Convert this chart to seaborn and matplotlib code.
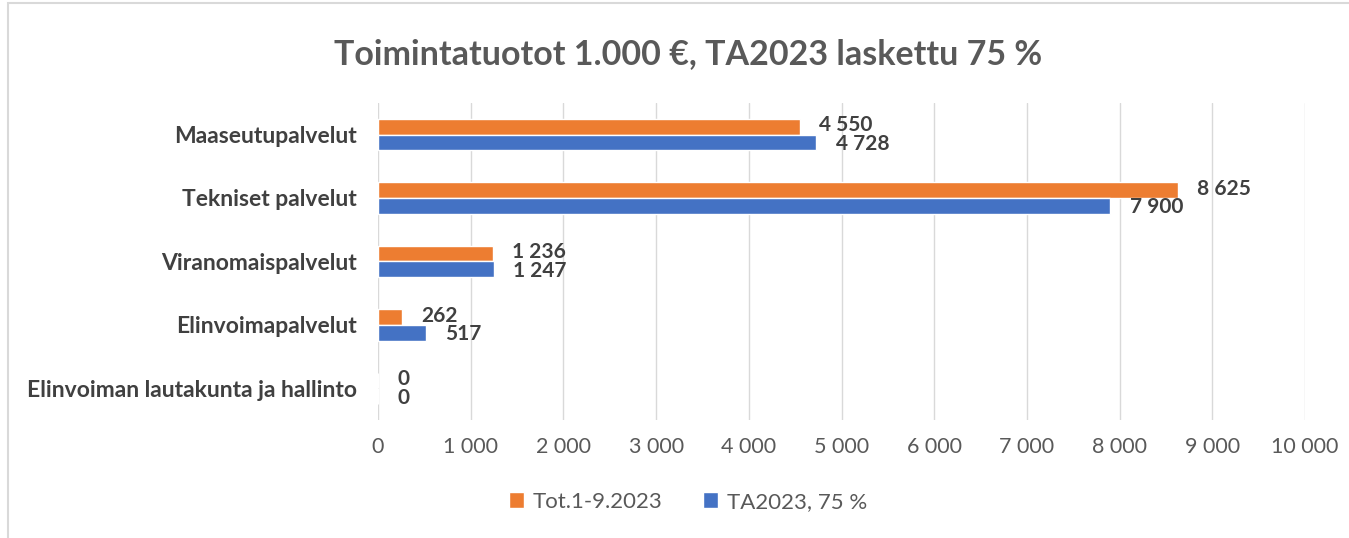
import matplotlib.pyplot as plt
import matplotlib.ticker as mticker
from matplotlib.patches import Rectangle
import pandas as pd
import seaborn as sns

sns.set_style("white")
plt.rcParams["font.family"] = ["Lato", "DejaVu Sans"]

categories = [
    "Maaseutupalvelut",
    "Tekniset palvelut",
    "Viranomaispalvelut",
    "Elinvoimapalvelut",
    "Elinvoiman lautakunta ja hallinto",
]
tot_2023 = [4550, 8625, 1236, 262, 0]
ta_2023 = [4728, 7900, 1247, 517, 0]
series = ["Tot.1-9.2023", "TA2023, 75 %"]
colors = ["#ED7D31", "#4472C4"]

data = pd.DataFrame({
    "Yksikkö": categories * 2,
    "Arvo": tot_2023 + ta_2023,
    "Sarja": [series[0]] * len(categories) + [series[1]] * len(categories),
})

fig = plt.figure(figsize=(13.49, 5.38), dpi=100)
ax = fig.add_axes([0.2802, 0.219, 0.6872, 0.590])
sns.barplot(data=data, x="Arvo", y="Yksikkö", hue="Sarja", hue_order=series,
            palette=colors, width=0.5, orient="h", ax=ax, saturation=1)

space_fmt = lambda v: f"{v:,.0f}".replace(",", " ")
# orange labels nudged up a bit, blue ones down, so they don't collide
for cont, dy in zip(ax.containers, [1.0, -1.0]):
    texts = ax.bar_label(cont, labels=[space_fmt(v) for v in cont.datavalues], padding=14,
                         fontsize=15, fontweight="bold", color="#404040")
    for t in texts:
        dx, _ = t.xyann
        t.xyann = (dx, dy)

ax.set_xlim(0, 10000)
ax.xaxis.set_major_locator(mticker.MultipleLocator(1000))
ax.xaxis.set_major_formatter(mticker.FuncFormatter(lambda v, p: space_fmt(v)))
ax.grid(axis="x", color="#d9d9d9", linewidth=1)
ax.set_axisbelow(True)
for s in ax.spines.values():
    s.set_visible(False)
ax.tick_params(axis="x", length=0, labelsize=15.5, labelcolor="#595959", pad=12)
ax.tick_params(axis="y", length=0, labelsize=16.5, labelcolor="#404040", pad=15)
for t in ax.get_yticklabels():
    t.set_fontweight("bold")
ax.set_xlabel("")
ax.set_ylabel("")

ax.legend(loc="center", ncol=2, frameon=False, fontsize=16, handlelength=0.7,
          handleheight=0.7, handletextpad=0.4, columnspacing=1.8, labelcolor="#595959")
leg = ax.get_legend()
leg.set_bbox_to_anchor((0.51, 0.067), transform=fig.transFigure)

fig.suptitle("Toimintatuotot 1.000 €, TA2023 laskettu 75 %", x=0.51, y=0.93,
             fontsize=24.5, fontweight="bold", color="#595959")

fig.patches.append(Rectangle((8 / 1349, -0.1), 1.2, 1.1 - 3 / 538, transform=fig.transFigure,
                             fill=False, edgecolor="#d9d9d9", linewidth=1.5))

fig.savefig("out.png", dpi=100)
